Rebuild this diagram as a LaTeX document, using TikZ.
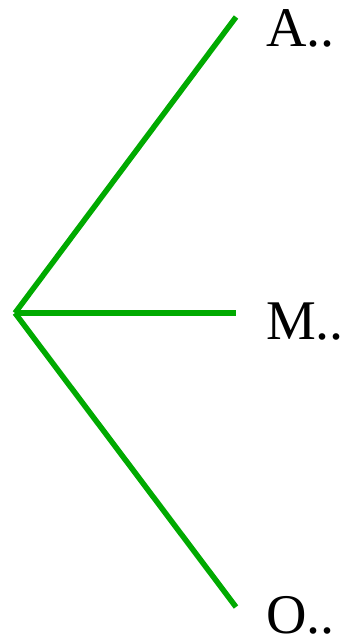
\documentclass[tikz,border=0pt]{standalone}
\usepackage{fontspec}
\setmainfont{Liberation Serif}
\definecolor{edgegreen}{RGB}{0,170,0}
\begin{document}
\begin{tikzpicture}[x=1pt,y=-1pt,
  edge/.style={draw=edgegreen,line width=5.5pt},
  lbl/.style={anchor=base west,inner sep=0pt,font=\fontsize{56}{56}\selectfont}]
\useasboundingbox (0,0) rectangle (354,644);
\coordinate (root) at (15,313);
\coordinate (a) at (236,17);
\coordinate (m) at (236,313);
\coordinate (o) at (236,607);
\draw[edge] (root) -- (a);
\draw[edge] (root) -- (m);
\draw[edge] (root) -- (o);
\node[lbl] (la) at (266,47) {A..};
\node[lbl] (lm) at (266,339) {M..};
\node[lbl] (lo) at (266,633) {O..};
\end{tikzpicture}
\end{document}
